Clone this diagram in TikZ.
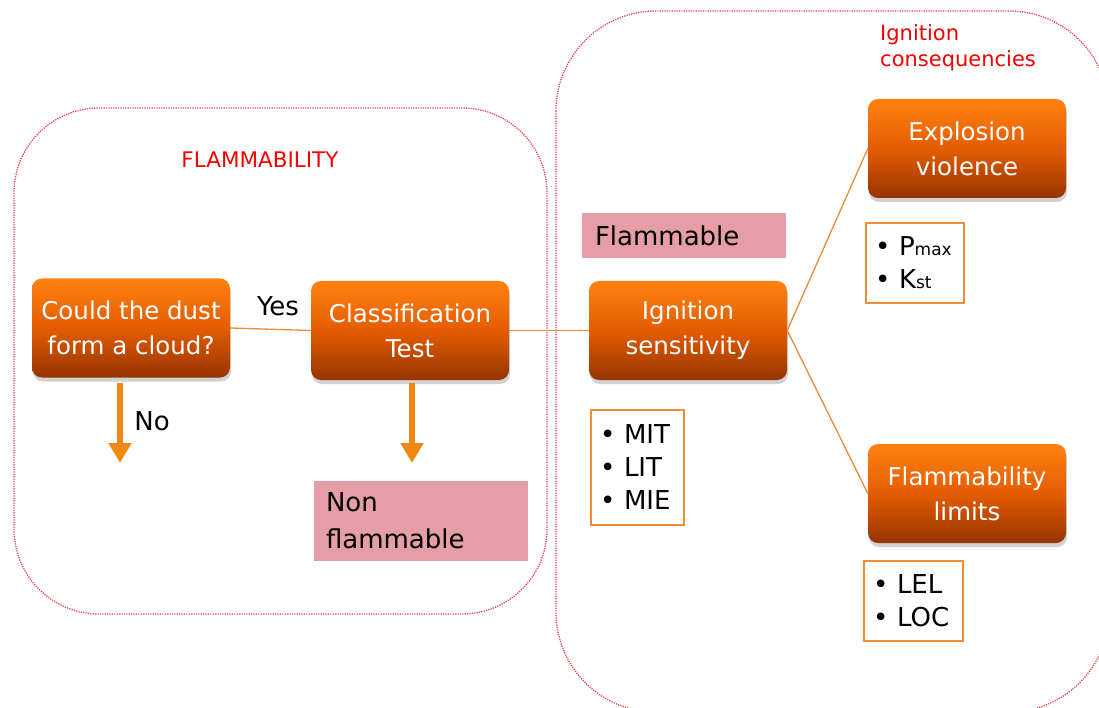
\documentclass[tikz,border=0pt]{standalone}
\usepackage{fontspec}
\setmainfont{DejaVu Sans}
\usetikzlibrary{shadows,arrows.meta}
\definecolor{otop}{RGB}{255,130,16}
\definecolor{omid}{RGB}{228,92,2}
\definecolor{obot}{RGB}{150,52,0}
\definecolor{thin}{RGB}{232,140,56}
\definecolor{thick}{RGB}{240,136,18}
\definecolor{pinkb}{RGB}{230,158,166}
\definecolor{bord}{RGB}{240,140,50}
\definecolor{redt}{RGB}{245,0,0}
\definecolor{zonec}{RGB}{240,60,70}
\tikzset{
  obox/.style={rounded corners=10pt, minimum width=198pt, minimum height=99pt, inner sep=0pt,
    top color=otop, bottom color=obot, middle color=omid, text=white, align=center,
    font=\fontsize{24.5}{35}\selectfont,
    drop shadow={shadow xshift=1pt, shadow yshift=-4pt, opacity=0.3, fill=black!60}},
  pbox/.style={fill=pinkb, inner sep=0pt, text=black, font=\fontsize{26}{37}\selectfont},
  bbox/.style={draw=bord, line width=1.3pt, fill=white, inner sep=0pt, align=left,
    font=\fontsize{26}{33}\selectfont},
  conn/.style={draw=thin, line width=1.3pt},
  bigarrow/.style={draw=thick, line width=6pt, -{Triangle[width=22pt,length=20pt]}},
  zone/.style={draw=zonec, line width=1.3pt, dash pattern=on 1.2pt off 1.2pt, rounded corners=#1},
  redlab/.style={text=redt, font=\fontsize{21}{26}\selectfont, inner sep=0pt, align=left},
  lab/.style={text=black, font=\fontsize{26}{30}\selectfont, inner sep=0pt}
}
\begin{document}
\begin{tikzpicture}[x=1pt,y=-1pt]
\useasboundingbox (0,0) rectangle (1099,708);
\clip (0,0) rectangle (1099,708);
% zones
\draw[zone=85pt] (14,108) rectangle (547,614);
\draw[zone=100pt] (556,11) rectangle (1109,712);
\node[redlab, font=\fontsize{21.5}{26}\selectfont] (flt) at (260,160) {FLAMMABILITY};
\node[redlab, anchor=north west] (igc) at (880,24) {Ignition\\consequencies};
% orange boxes
\node[obox] (b1) at (131,328) {Could the dust\\form a cloud?};
\node[obox] (b2) at (410,330.5) {Classification\\Test};
\node[obox] (b3) at (688,330.5) {Ignition\\sensitivity};
\node[obox] (b4) at (967,148.5) {Explosion\\violence};
\node[obox] (b5) at (967,493.5) {Flammability\\limits};
% connectors
\draw[conn] (b1.east) -- (b2.west);
\draw[conn] (b2.east) -- (b3.west);
\draw[conn] (b3.east) -- (b4.west);
\draw[conn] (b3.east) -- (b5.west);
\node[lab] (yes) at (278,306) {Yes};
\node[lab] (no) at (152,421) {No};
% thick arrows
\coordinate (a1s) at (120,383);
\coordinate (a1e) at (120,463);
\coordinate (a2s) at (412,383);
\coordinate (a2e) at (412,463);
\draw[bigarrow] (a1s) -- (a1e);
\draw[bigarrow] (a2s) -- (a2e);
% pink boxes
\node[pbox, minimum width=204pt, minimum height=45pt, text width=178pt, align=left] (fl) at (684,235.5) {Flammable};
\node[pbox, minimum width=214pt, minimum height=80pt, text width=190pt, align=left] (nf) at (421,521) {Non\\flammable};
% bullet boxes
\node[bbox, minimum width=93pt, minimum height=115pt, text width=75pt] (l1) at (637.5,467.5) {• MIT\\• LIT\\• MIE};
\node[bbox, minimum width=98pt, minimum height=80pt, text width=80pt] (l2) at (915,263) {• P{\fontsize{17}{17}\selectfont max}\\• K{\fontsize{17}{17}\selectfont st}};
\node[bbox, minimum width=99pt, minimum height=80pt, text width=81pt] (l3) at (913.5,601) {• LEL\\• LOC};
\end{tikzpicture}
\end{document}
